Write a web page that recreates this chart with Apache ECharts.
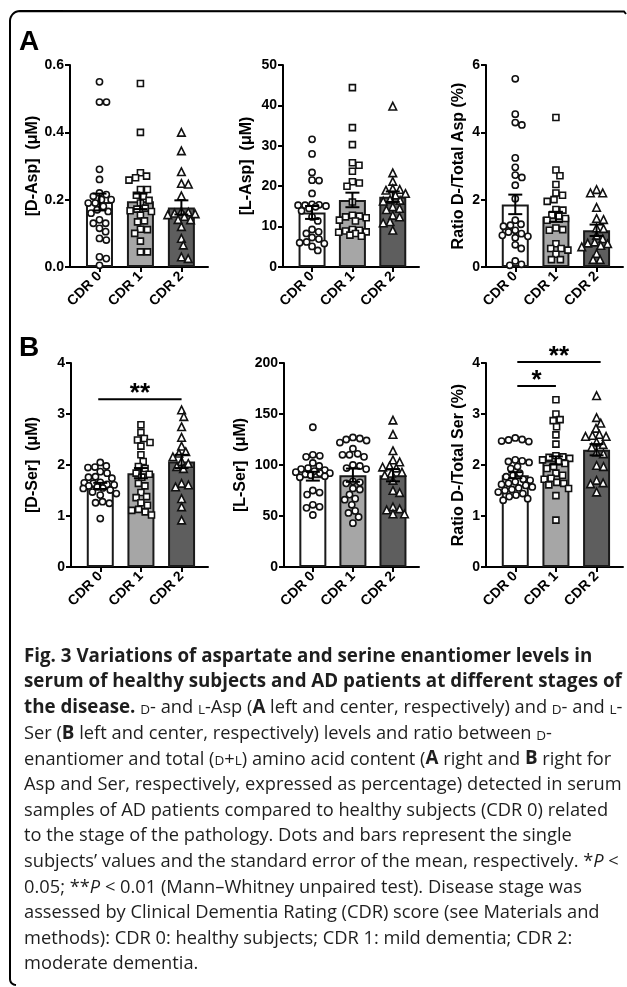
<!DOCTYPE html>
<html><head><meta charset="utf-8">
<script src="https://cdn.jsdelivr.net/npm/echarts@6/dist/echarts.min.js"></script>
<style>html,body{margin:0;padding:0;background:#fff}#c{width:627px;height:987px}</style>
</head><body><div id="c"></div>
<script>
// ---------------- DATA ----------------
const categories = ['CDR 0', 'CDR 1', 'CDR 2'];

// Panel A left: [D-Asp] (uM)
const dAspTickLabels = ['0.0', '0.2', '0.4', '0.6'];
const dAspCdr0 = [0.55, 0.49, 0.49, 0.29, 0.26, 0.22, 0.215, 0.21, 0.20, 0.20, 0.19, 0.19, 0.18, 0.17, 0.165, 0.16, 0.14, 0.13, 0.13, 0.115, 0.105, 0.085, 0.08, 0.03, 0.025, 0.005];
const dAspCdr1 = [0.545, 0.40, 0.28, 0.27, 0.265, 0.258, 0.23, 0.23, 0.213, 0.21, 0.198, 0.19, 0.175, 0.172, 0.167, 0.165, 0.154, 0.137, 0.134, 0.112, 0.111, 0.10, 0.077, 0.045, 0.045];
const dAspCdr2 = [0.40, 0.345, 0.283, 0.248, 0.246, 0.211, 0.165, 0.163, 0.16, 0.158, 0.155, 0.15, 0.141, 0.14, 0.12, 0.085, 0.065, 0.03, 0.025];
const dAspMean = [0.193, 0.195, 0.177];
const dAspSem = [0.025, 0.023, 0.021];

// Panel A center: [L-Asp] (uM)
const lAspTickLabels = ['0', '10', '20', '30', '40', '50'];
const lAspCdr0 = [31.6, 28, 23.4, 21.5, 21.4, 18.2, 15.5, 15.4, 15.3, 15.3, 15.1, 14.9, 14.5, 13.9, 12.4, 11.4, 9.3, 8.7, 8.3, 7.3, 6.9, 6.2, 6.0, 5.8, 5.1, 4.1];
const lAspCdr1 = [44.4, 34.5, 30.3, 25.8, 25.2, 23.7, 21.1, 20.8, 20.0, 16.1, 12.8, 12.6, 12.4, 12.2, 11.6, 11.4, 9.3, 9.1, 8.9, 8.7, 8.6, 8.3, 7.9, 7.6];
const lAspCdr2 = [39.8, 23.3, 21.2, 19.4, 19.2, 19.0, 18.2, 17.8, 16.7, 16.5, 16.3, 14.9, 14.5, 14.2, 12.8, 12.4, 11.2, 10.9, 9.1];
const lAspMean = [13.5, 16.6, 17.4];
const lAspSem = [1.6, 1.8, 1.3];

// Panel A right: Ratio D-/Total Asp (%)
const ratioAspTickLabels = ['0', '2', '4', '6'];
const ratioAspCdr0 = [5.59, 4.54, 4.29, 4.22, 3.24, 2.96, 2.73, 2.66, 2.43, 2.03, 1.39, 1.27, 1.24, 1.21, 1.09, 1.04, 0.99, 0.94, 0.91, 0.87, 0.66, 0.55, 0.18, 0.08, 0.05];
const ratioAspCdr1 = [4.44, 2.88, 2.71, 2.45, 2.2, 2.13, 2.0, 1.95, 1.71, 1.69, 1.54, 1.51, 1.44, 1.39, 1.16, 1.11, 1.09, 0.69, 0.55, 0.55, 0.5, 0.38, 0.22, 0.22];
const ratioAspCdr2 = [2.3, 2.2, 2.2, 1.77, 1.44, 1.41, 1.16, 1.14, 0.94, 0.84, 0.74, 0.71, 0.69, 0.64, 0.6, 0.4, 0.22, 0.22];
const ratioAspMean = [1.86, 1.49, 1.09];
const ratioAspSem = [0.29, 0.15, 0.17];

// Panel B left: [D-Ser] (uM)
const dSerTickLabels = ['0', '1', '2', '3', '4'];
const dSerCdr0 = [2.05, 1.98, 1.96, 1.95, 1.87, 1.84, 1.77, 1.76, 1.74, 1.66, 1.65, 1.64, 1.62, 1.61, 1.59, 1.57, 1.55, 1.54, 1.51, 1.47, 1.44, 1.41, 1.28, 1.26, 1.25, 0.95];
const dSerCdr1 = [2.79, 2.64, 2.52, 2.49, 2.44, 2.37, 2.2, 2.07, 1.97, 1.93, 1.84, 1.82, 1.76, 1.64, 1.59, 1.46, 1.38, 1.36, 1.26, 1.21, 1.13, 1.11, 1.08, 1.02];
const dSerCdr2 = [3.08, 2.95, 2.75, 2.54, 2.37, 2.26, 2.23, 2.16, 2.07, 2.03, 1.97, 1.93, 1.64, 1.61, 1.57, 1.34, 1.18, 0.92];
const dSerMean = [1.59, 1.84, 2.07];
const dSerSem = [0.06, 0.10, 0.13];
const dSerSig = [[-0.05, 2.0, 3.29]];
const dSerSigLabels = ['**'];

// Panel B center: [L-Ser] (uM)
const lSerTickLabels = ['0', '50', '100', '150', '200'];
const lSerCdr0 = [137, 110, 109, 108, 102, 99, 97, 96, 95, 94, 93, 92, 92, 91, 90, 89, 88, 75, 73, 71, 61, 59, 58, 51];
const lSerCdr1 = [127, 126, 125, 124, 122, 116, 111, 110, 110, 108, 100, 99, 97, 96, 84, 83, 82, 77, 76, 71, 67, 66, 61, 55, 53, 49, 43];
const lSerCdr2 = [144, 130, 114, 105, 103, 99, 98, 97, 93, 92, 90, 85, 75, 73, 59, 57, 56, 52, 52];
const lSerMean = [89, 90, 90];
const lSerSem = [4.3, 6.5, 6.0];

// Panel B right: Ratio D-/Total Ser (%)
const ratioSerTickLabels = ['0', '1', '2', '3', '4'];
const ratioSerCdr0 = [2.53, 2.5, 2.49, 2.47, 2.46, 2.1, 2.08, 2.07, 2.05, 1.97, 1.93, 1.84, 1.8, 1.77, 1.72, 1.7, 1.67, 1.64, 1.62, 1.6, 1.57, 1.55, 1.52, 1.5, 1.47, 1.44, 1.41, 1.38, 1.34, 1.31];
const ratioSerCdr1 = [3.28, 3.0, 2.89, 2.87, 2.75, 2.59, 2.41, 2.18, 2.16, 2.15, 2.13, 2.1, 2.07, 2.03, 1.97, 1.93, 1.84, 1.8, 1.74, 1.72, 1.66, 1.64, 1.61, 1.54, 1.4, 0.92];
const ratioSerCdr2 = [3.36, 2.93, 2.82, 2.72, 2.6, 2.58, 2.56, 2.56, 2.45, 2.4, 2.35, 2.25, 2.22, 1.99, 1.97, 1.7, 1.65, 1.63, 1.47];
const ratioSerMean = [1.80, 2.09, 2.30];
const ratioSerSem = [0.06, 0.08, 0.11];
const ratioSerSig = [[0.05, 1.0, 3.55], [0.05, 2.1, 4.02]];
const ratioSerSigLabels = ['*', '**'];

// Caption (segments: r regular, b bold, sc small caps, i italic)
const captionLines = [
  [['b', 'Fig. 3 Variations of aspartate and serine enantiomer levels in']],
  [['b', 'serum of healthy subjects and AD patients at different stages of']],
  [['b', 'the disease.'], ['r', ' '], ['sc', 'D'], ['r', '- and '], ['sc', 'L'], ['r', '-Asp ('], ['b', 'A'], ['r', ' left and center, respectively) and '], ['sc', 'D'], ['r', '- and '], ['sc', 'L'], ['r', '-']],
  [['r', 'Ser ('], ['b', 'B'], ['r', ' left and center, respectively) levels and ratio between '], ['sc', 'D'], ['r', '-']],
  [['r', 'enantiomer and total ('], ['sc', 'D'], ['r', '+'], ['sc', 'L'], ['r', ') amino acid content ('], ['b', 'A'], ['r', ' right and '], ['b', 'B'], ['r', ' right for']],
  [['r', 'Asp and Ser, respectively, expressed as percentage) detected in serum']],
  [['r', 'samples of AD patients compared to healthy subjects (CDR 0) related']],
  [['r', 'to the stage of the pathology. Dots and bars represent the single']],
  [['r', 'subjects\u2019 values and the standard error of the mean, respectively. *'], ['i', 'P'], ['r', ' <']],
  [['r', '0.05; **'], ['i', 'P'], ['r', ' < 0.01 (Mann\u2013Whitney unpaired test). Disease stage was']],
  [['r', 'assessed by Clinical Dementia Rating (CDR) score (see Materials and']],
  [['r', 'methods): CDR 0: healthy subjects; CDR 1: mild dementia; CDR 2:']],
  [['r', 'moderate dementia.']]
];

// ---------------- STYLE / LAYOUT ----------------
const FONT = '"Liberation Sans", Arial, sans-serif';
const CAP_FONT = '"Open Sans", "Noto Sans", sans-serif';
const barColors = ['#ffffff', '#a6a6a6', '#5e5e5e'];
const XMIN = -0.72, XMAX = 2.65;
const stdSymbols = ['circle', 'rect', 'triangle'];
const lSerSymbols = ['circle', 'circle', 'triangle'];
const symbolSizes = { circle: 6.2, rect: 6, triangle: 7.6 };
const SWARM_D = 7.0, SWARM_LIM = 17;

const panels = [
  { grid: { left: 70, top: 65, width: 138, height: 202 }, title: '[D-Asp]  (\u03bcM)', gap: 29, ticks: dAspTickLabels,
    groups: [dAspCdr0, dAspCdr1, dAspCdr2], mean: dAspMean, sem: dAspSem, symbols: stdSymbols },
  { grid: { left: 283, top: 65, width: 136, height: 202 }, title: '[L-Asp]  (\u03bcM)', gap: 28, ticks: lAspTickLabels,
    groups: [lAspCdr0, lAspCdr1, lAspCdr2], mean: lAspMean, sem: lAspSem, symbols: stdSymbols },
  { grid: { left: 486, top: 65, width: 137, height: 202 }, title: 'Ratio D-/Total Asp (%)', gap: 19, ticks: ratioAspTickLabels,
    groups: [ratioAspCdr0, ratioAspCdr1, ratioAspCdr2], mean: ratioAspMean, sem: ratioAspSem, symbols: stdSymbols },
  { grid: { left: 71, top: 363, width: 137, height: 204 }, title: '[D-Ser]  (\u03bcM)', gap: 30, ticks: dSerTickLabels,
    groups: [dSerCdr0, dSerCdr1, dSerCdr2], mean: dSerMean, sem: dSerSem, symbols: stdSymbols, sig: dSerSig, sigLabels: dSerSigLabels },
  { grid: { left: 284, top: 363, width: 135, height: 204 }, title: '[L-Ser]  (\u03bcM)', gap: 35, ticks: lSerTickLabels,
    groups: [lSerCdr0, lSerCdr1, lSerCdr2], mean: lSerMean, sem: lSerSem, symbols: lSerSymbols },
  { grid: { left: 486, top: 363, width: 137, height: 204 }, title: 'Ratio D-/Total Ser (%)', gap: 19, ticks: ratioSerTickLabels,
    groups: [ratioSerCdr0, ratioSerCdr1, ratioSerCdr2], mean: ratioSerMean, sem: ratioSerSem, symbols: stdSymbols, sig: ratioSerSig, sigLabels: ratioSerSigLabels }
];

// deterministic beeswarm (pixel space) -> offsets in px, limited spread
function swarm(vals, pxY, d, lim) {
  const idx = vals.map((v, i) => i).sort((a, b) => vals[b] - vals[a]);
  const placed = [];
  const off = new Array(vals.length).fill(0);
  const minDist = (c, y) => placed.reduce((m, p) => Math.min(m, Math.hypot(p.x - c, p.y - y)), Infinity);
  for (const i of idx) {
    const y = vals[i] * pxY;
    const cands = [0];
    for (const p of placed) {
      const dy = Math.abs(p.y - y);
      if (dy < d) { const dx = Math.sqrt(d * d - dy * dy); cands.push(p.x + dx + 0.01, p.x - dx - 0.01); }
    }
    cands.sort((a, b) => Math.abs(a) - Math.abs(b));
    let best = null;
    for (const c of cands) {
      if (Math.abs(c) <= lim && minDist(c, y) >= d - 0.05) { best = c; break; }
    }
    if (best === null) {
      let bd = -1;
      for (let c = -lim; c <= lim; c += 0.5) { const md = minDist(c, y); if (md > bd + 1e-6) { bd = md; best = c; } }
    }
    placed.push({ x: best, y });
    off[i] = best;
  }
  return off;
}

const grids = [], xAxes = [], yAxes = [], series = [];
panels.forEach((P, i) => {
  grids.push(Object.assign({ containLabel: false }, P.grid));
  const tv = P.ticks.map(parseFloat);
  const ymin = tv[0], ymax = tv[tv.length - 1], step = tv[1] - tv[0];
  xAxes.push({
    type: 'value', gridIndex: i, min: XMIN, max: XMAX,
    splitLine: { show: false },
    axisLine: { show: true, onZero: false, lineStyle: { color: '#000', width: 2 } },
    axisTick: { show: true, customValues: [0, 1, 2], length: 5, lineStyle: { color: '#000', width: 2 } },
    axisLabel: { show: true, customValues: [0, 1, 2], formatter: v => categories[Math.round(v)] || '',
      rotate: 45, margin: 7, color: '#000', fontFamily: FONT, fontWeight: 'bold', fontSize: 14 }
  });
  yAxes.push({
    type: 'value', gridIndex: i, min: ymin, max: ymax, interval: step,
    splitLine: { show: false },
    axisLine: { show: true, onZero: false, lineStyle: { color: '#000', width: 2 } },
    axisTick: { show: true, length: 5, lineStyle: { color: '#000', width: 2 } },
    axisLabel: { margin: 6, color: '#000', fontFamily: FONT, fontWeight: 'bold', fontSize: 14,
      formatter: v => P.ticks[Math.round((v - ymin) / step)] },
    name: P.title, nameLocation: 'middle', nameGap: P.gap, nameRotate: 90,
    nameTextStyle: { color: '#000', fontFamily: FONT, fontWeight: 'bold', fontSize: 16 }
  });
  // bars
  series.push({
    type: 'bar', xAxisIndex: i, yAxisIndex: i, barWidth: 27, z: 1, silent: true,
    data: P.mean.map((m, k) => [k, m]),
    itemStyle: { color: p => barColors[p.dataIndex], borderColor: '#1a1a1a', borderWidth: 2 }
  });
  // points
  const pxY = P.grid.height / (ymax - ymin);
  const pxX = P.grid.width / (XMAX - XMIN);
  P.groups.forEach((vals, k) => {
    const off = swarm(vals, pxY, SWARM_D, SWARM_LIM);
    const sym = P.symbols[k];
    series.push({
      type: 'scatter', xAxisIndex: i, yAxisIndex: i, z: 3, silent: true,
      symbol: sym, symbolSize: symbolSizes[sym],
      data: vals.map((v, j) => [k + off[j] / pxX, v]),
      itemStyle: { color: '#ffffff', borderColor: '#111', borderWidth: 1.6, opacity: 1 }
    });
  });
  // error bars (SEM)
  series.push({
    type: 'custom', xAxisIndex: i, yAxisIndex: i, z: 4, silent: true,
    data: P.mean.map((m, k) => [k, m, P.sem[k]]),
    renderItem: (params, api) => {
      const x = api.value(0), m = api.value(1), s = api.value(2);
      const t = api.coord([x, m + s]), b = api.coord([x, m - s]);
      const h = 7, st = { stroke: '#000', lineWidth: 2 };
      return { type: 'group', children: [
        { type: 'line', shape: { x1: t[0], y1: t[1], x2: b[0], y2: b[1] }, style: st },
        { type: 'line', shape: { x1: t[0] - h, y1: t[1], x2: t[0] + h, y2: t[1] }, style: st },
        { type: 'line', shape: { x1: b[0] - h, y1: b[1], x2: b[0] + h, y2: b[1] }, style: st }
      ] };
    }
  });
  // significance
  if (P.sig) {
    series.push({
      type: 'custom', xAxisIndex: i, yAxisIndex: i, z: 5, silent: true, clip: false,
      data: P.sig,
      renderItem: (params, api) => {
        const a = api.coord([api.value(0), api.value(2)]), b = api.coord([api.value(1), api.value(2)]);
        return { type: 'group', children: [
          { type: 'line', shape: { x1: a[0], y1: a[1], x2: b[0], y2: b[1] }, style: { stroke: '#000', lineWidth: 2 } },
          { type: 'text', x: (a[0] + b[0]) / 2, y: a[1] - 5,
            style: { text: P.sigLabels[params.dataIndex], fill: '#000', font: 'bold 26px ' + FONT, align: 'center', verticalAlign: 'middle' } }
        ] };
      }
    });
  }
});

// caption sizing: fit font so the longest line matches the reference text width
const cv = document.createElement('canvas').getContext('2d');
function measure(str, weight) { cv.font = weight + ' 100px ' + CAP_FONT; return cv.measureText(str).width; }
const regLines = captionLines.slice(5, 12).map(l => l.map(s => s[1]).join(''));
const regMax = Math.max(...regLines.map(s => measure(s, 'normal')));
const regSize = 100 * 598 / regMax;
const boldSize = 100 * 598 / measure('serum of healthy subjects and AD patients at different stages of', 'bold');
const capColor = '#1e1e1e';
const rich = {
  r: { fontFamily: CAP_FONT, fontSize: regSize, fontWeight: 'normal', fill: capColor, verticalAlign: 'bottom', lineHeight: regSize * 1.2 },
  b: { fontFamily: CAP_FONT, fontSize: boldSize, fontWeight: 'bold', fill: capColor, verticalAlign: 'bottom', lineHeight: regSize * 1.2 },
  i: { fontFamily: CAP_FONT, fontSize: regSize, fontStyle: 'italic', fill: capColor, verticalAlign: 'bottom', lineHeight: regSize * 1.2 },
  sc: { fontFamily: CAP_FONT, fontSize: regSize * 0.74, fill: capColor, verticalAlign: 'bottom', lineHeight: regSize * 1.2 }
};

// frame: bracket with rounded corners (decoration)
function arcPts(cx, cy, r, a0, a1) { const p = []; for (let t = 0; t <= 8; t++) { const a = a0 + (a1 - a0) * t / 8; p.push([cx + r * Math.cos(a), cy + r * Math.sin(a)]); } return p; }
const framePts = [[626, 14], [624, 11.5]]
  .concat(arcPts(20, 21, 10, -Math.PI / 2, -Math.PI))
  .concat(arcPts(16, 979, 6, Math.PI, Math.PI / 2));

const graphics = [
  { type: 'polyline', silent: true, shape: { points: framePts }, style: { stroke: '#000', lineWidth: 2, fill: null } },
  { type: 'text', x: 19, y: 42, style: { text: 'A', font: 'bold 28px ' + FONT, fill: '#000', verticalAlign: 'middle' } },
  { type: 'text', x: 19, y: 348, style: { text: 'B', font: 'bold 28px ' + FONT, fill: '#000', verticalAlign: 'middle' } }
];
captionLines.forEach((segs, n) => {
  graphics.push({ type: 'text', x: 24, y: 655 + n * 25.6, silent: true,
    style: { text: segs.map(s => '{' + s[0] + '|' + s[1] + '}').join(''), rich, verticalAlign: 'middle', align: 'left' } });
});

const chart = echarts.init(document.getElementById('c'), null, { renderer: 'canvas' });
chart.setOption({
  animation: false,
  backgroundColor: '#ffffff',
  grid: grids, xAxis: xAxes, yAxis: yAxes, series,
  graphic: graphics
});
</script></body></html>
